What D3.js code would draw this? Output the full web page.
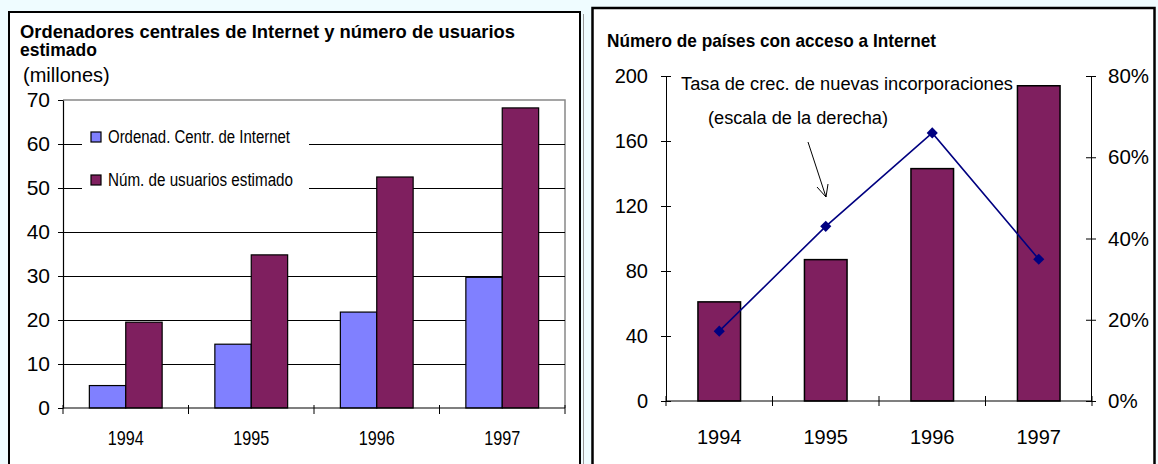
<!DOCTYPE html>
<html><head><meta charset="utf-8">
<script src="https://cdn.jsdelivr.net/npm/d3@7/dist/d3.min.js"></script>
<style>
html,body{margin:0;padding:0;background:#effcff;}
svg{display:block;}
</style></head>
<body>
<svg id="c" width="1158" height="464"></svg>
<script>
// ---- data ----
const years = ["1994","1995","1996","1997"];
const leftSeries = ["Ordenad. Centr. de Internet","Núm. de usuarios estimado"];
const hosts = [5.1, 14.5, 21.8, 29.7];
const users = [19.5, 34.8, 52.5, 68.2];
const leftTicks = [0,10,20,30,40,50,60,70];
const countries = [61, 87, 143, 194];
const growth = [0.172, 0.43, 0.66, 0.349];
const rightTicks = [0,40,80,120,160,200];
const pctTicks = [0,0.2,0.4,0.6,0.8];

const svg = d3.select("#c");
const SANS = "'Liberation Sans',Arial,sans-serif";
const BLUE = "#8080ff", PURPLE = "#7f1f5f", NAVY = "#000080";

// ---- panels ----
svg.append("rect").attr("x",9).attr("y",12).attr("width",571).attr("height",470)
  .attr("fill","#fff").attr("stroke","#000").attr("stroke-width",2);
svg.append("line").attr("x1",583.5).attr("x2",583.5).attr("y1",14).attr("y2",464)
  .attr("stroke","#999").attr("stroke-width",1);
svg.append("rect").attr("x",592.5).attr("y",8).attr("width",562).attr("height",470)
  .attr("fill","#fff").attr("stroke","#000").attr("stroke-width",2.5);

// ================= LEFT CHART =================
const L = svg.append("g");
L.append("text").attr("x",20).attr("y",38).attr("font-family",SANS).attr("font-weight","bold")
  .attr("font-size",17.5).attr("textLength",495).attr("lengthAdjust","spacingAndGlyphs")
  .text("Ordenadores centrales de Internet y número de usuarios");
L.append("text").attr("x",20).attr("y",56).attr("font-family",SANS).attr("font-weight","bold")
  .attr("font-size",17.5).text("estimado");
L.append("text").attr("x",23).attr("y",82).attr("font-family",SANS)
  .attr("font-size",20).text("(millones)");

const xL = d3.scaleBand().domain(years).range([63,565]).padding(0);
const yL = d3.scaleLinear().domain([0,70]).range([408,100]);
const xs = d3.scaleBand().domain([0,1]).range([0, xL.bandwidth()*0.58]);

// plot border (top/right gray)
L.append("path").attr("d",`M63,${yL(70)}H565V${yL(0)}`).attr("fill","none")
  .attr("stroke","#888").attr("stroke-width",1.5);
// gridlines
L.append("g").selectAll("line").data(leftTicks.filter(d=>d>0 && d<70)).join("line")
  .attr("x1",63).attr("x2",565).attr("y1",d=>yL(d)+0.5).attr("y2",d=>yL(d)+0.5)
  .attr("stroke","#000").attr("stroke-width",1);

// bars
const offs = xL.bandwidth()*0.21;
years.forEach((yr,i)=>{
  [hosts[i],users[i]].forEach((v,j)=>{
    L.append("rect").attr("x",xL(yr)+offs+xs(j)).attr("width",xs.bandwidth())
      .attr("y",yL(v)).attr("height",yL(0)-yL(v))
      .attr("fill",j===0?BLUE:PURPLE).attr("stroke","#000").attr("stroke-width",1.2);
  });
});

// legend
const lg = L.append("g");
lg.append("rect").attr("x",82).attr("y",122).attr("width",227).attr("height",72).attr("fill","#fff");
const legW = [182, 185];
leftSeries.forEach((s,i)=>{
  const cy = 137 + i*43;
  lg.append("rect").attr("x",91).attr("y",cy-5).attr("width",10).attr("height",10)
    .attr("fill",i===0?BLUE:PURPLE).attr("stroke","#000").attr("stroke-width",1.2);
  lg.append("text").attr("x",108).attr("y",cy+6).attr("font-family",SANS)
    .attr("font-size",18).attr("textLength",legW[i]).attr("lengthAdjust","spacingAndGlyphs").text(s);
});

// y axis
const yAxL = d3.axisLeft(yL).tickValues(leftTicks).tickSize(5).tickSizeOuter(0).tickPadding(8);
const gyL = L.append("g").attr("transform","translate(63,0)").call(yAxL);
gyL.select(".domain").attr("stroke","#000").attr("stroke-width",1.2);
gyL.selectAll("text").attr("font-family",SANS).attr("font-size",21).attr("fill","#000");
// x axis
const gxL = L.append("g").attr("transform",`translate(0,${yL(0)})`);
gxL.append("line").attr("x1",63).attr("x2",565).attr("stroke","#000").attr("stroke-width",1.2);
gxL.selectAll(".tk").data(d3.range(5)).join("line")
  .attr("x1",i=>63+i*xL.bandwidth()).attr("x2",i=>63+i*xL.bandwidth())
  .attr("y1",-3).attr("y2",6).attr("stroke","#000");
gxL.selectAll(".lb").data(years).join("text").attr("x",d=>xL(d)+xL.bandwidth()/2)
  .attr("y",37).attr("text-anchor","middle").attr("font-family",SANS).attr("font-size",21)
  .attr("textLength",36).attr("lengthAdjust","spacingAndGlyphs").text(d=>d);

// ================= RIGHT CHART =================
const R = svg.append("g");
R.append("text").attr("x",607).attr("y",47).attr("font-family",SANS).attr("font-weight","bold")
  .attr("font-size",19).attr("textLength",329).attr("lengthAdjust","spacingAndGlyphs")
  .text("Número de países con acceso a Internet");

const xR = d3.scaleBand().domain(years).range([666,1092]).padding(0);
const yR = d3.scaleLinear().domain([0,200]).range([401,76]);
const yP = d3.scaleLinear().domain([0,0.8]).range([401,76]);

// bars
const bw = xR.bandwidth()*0.40;
R.selectAll(".bar").data(years).join("rect")
  .attr("x",d=>xR(d)+(xR.bandwidth()-bw)/2).attr("width",bw)
  .attr("y",(d,i)=>yR(countries[i])).attr("height",(d,i)=>yR(0)-yR(countries[i]))
  .attr("fill",PURPLE).attr("stroke","#000").attr("stroke-width",1.5);

// line
const line = d3.line().x((d,i)=>xR(years[i])+xR.bandwidth()/2).y(d=>yP(d));
R.append("path").datum(growth).attr("d",line).attr("fill","none").attr("stroke",NAVY).attr("stroke-width",1.6);
R.selectAll(".pt").data(growth).join("path")
  .attr("d",d3.symbol().type(d3.symbolSquare).size(62))
  .attr("transform",(d,i)=>`translate(${xR(years[i])+xR.bandwidth()/2},${yP(d)}) rotate(45)`)
  .attr("fill",NAVY);

// axes
const gyR = R.append("g").attr("transform","translate(666,0)")
  .call(d3.axisLeft(yR).tickValues(rightTicks).tickSize(5).tickSizeOuter(0).tickPadding(13));
gyR.selectAll(".tick line").attr("x1",5).attr("x2",-5);
gyR.select(".domain").attr("stroke","#000");
gyR.selectAll("text").attr("font-family",SANS).attr("font-size",20).attr("fill","#000");

const gyP = R.append("g").attr("transform","translate(1091,0)")
  .call(d3.axisRight(yP).tickValues(pctTicks).tickFormat(d3.format(".0%")).tickSize(5).tickSizeOuter(0).tickPadding(12));
gyP.selectAll(".tick line").attr("x1",-5).attr("x2",5);
gyP.select(".domain").attr("stroke","#000");
gyP.selectAll("text").attr("font-family",SANS).attr("font-size",20.5).attr("fill","#000");

const gxR = R.append("g").attr("transform",`translate(0,${yR(0)})`);
gxR.append("line").attr("x1",666).attr("x2",1091).attr("stroke","#000").attr("stroke-width",1.2);
gxR.selectAll(".tk").data(d3.range(5)).join("line")
  .attr("x1",i=>666+i*xR.bandwidth()).attr("x2",i=>666+i*xR.bandwidth())
  .attr("y1",-5).attr("y2",5).attr("stroke","#000");
gxR.selectAll(".lb").data(years).join("text").attr("x",d=>xR(d)+xR.bandwidth()/2)
  .attr("y",43).attr("text-anchor","middle").attr("font-family",SANS).attr("font-size",20).text(d=>d);

// annotation
R.append("rect").attr("x",678).attr("y",70).attr("width",337).attr("height",24).attr("fill","#fff");
R.append("text").attr("x",681).attr("y",90).attr("font-family",SANS).attr("font-size",18)
  .attr("textLength",332).attr("lengthAdjust","spacingAndGlyphs")
  .text("Tasa de crec. de nuevas incorporaciones");
R.append("text").attr("x",708).attr("y",124).attr("font-family",SANS).attr("font-size",18)
  .attr("textLength",180).attr("lengthAdjust","spacingAndGlyphs")
  .text("(escala de la derecha)");
R.append("path").attr("d","M808,142L826,197M817,187L826,197L828,184")
  .attr("fill","none").attr("stroke","#000").attr("stroke-width",1);
</script>
</body></html>
